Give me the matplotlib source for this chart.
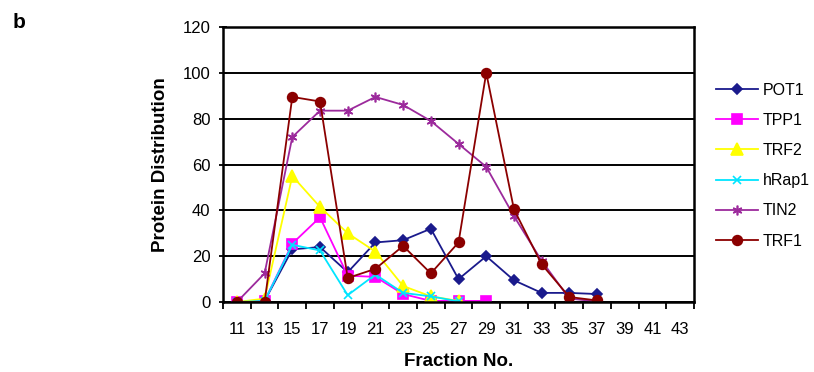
import matplotlib.pyplot as plt
import numpy as np

plt.rcParams["font.family"] = ["Liberation Sans", "DejaVu Sans"]

fractions = ["11", "13", "15", "17", "19", "21", "23", "25", "27", "29", "31",
             "33", "35", "37", "39", "41", "43"]

pot1 = [0, 0.5, 23, 24, 13, 26, 27, 32, 10, 20, 9.5, 4, 4, 3.5]
tpp1 = [0, 0.5, 25.5, 37, 11.5, 11, 3.5, 0.5, 0.5, 0.5]
trf2 = [0, 1.5, 55, 41.5, 30, 22, 7, 2.5, 0.5]
hrap1 = [0, 0.5, 25, 22.5, 3, 12, 4, 2.5, 0.3]
tin2 = [0, 12.5, 72, 83.5, 83.5, 89.5, 86, 79, 69, 59, 37.5, 18, 1.5, 0.3]
trf1 = [0, 0, 89.5, 87.5, 10.5, 14.5, 24.5, 12.5, 26, 100, 40.5, 16.5, 2.2, 0.7]

series = [
    ("POT1", pot1, "#1a1a8c", "D", 5),
    ("TPP1", tpp1, "#ff00ff", "s", 6.5),
    ("TRF2", trf2, "#ffff00", "^", 8),
    ("hRap1", hrap1, "#00e5ff", "x", 6),
    ("TIN2", tin2, "#9c2a9c", (6, 2, 0), 7),
    ("TRF1", trf1, "#8b0000", "o", 7),
]

fig = plt.figure(figsize=(8.14, 3.72), dpi=100)
ax = fig.add_axes([0.274, 0.188, 0.5786, 0.7394])

for name, vals, color, marker, ms in series:
    x = np.arange(len(vals))
    ax.plot(x, vals, color=color, lw=1.3, marker=marker, ms=ms,
            markeredgecolor=color, markerfacecolor=color, mew=1.2, label=name)

ax.set_xlim(-0.5, len(fractions) - 0.5)
ax.set_ylim(0, 120)
ax.set_yticks(np.arange(0, 121, 20))
ax.set_xticks(np.arange(len(fractions)))
ax.set_xticklabels(fractions)
ax.set_xticks(np.arange(len(fractions) + 1) - 0.5, minor=True)
ax.tick_params(axis="x", which="major", length=0, labelsize=12, pad=14)
ax.tick_params(axis="x", which="minor", length=5, width=1.3, direction="out")
ax.tick_params(axis="y", length=6, width=1.3, direction="inout", labelsize=12, pad=6)
ax.yaxis.grid(True, color="black", lw=1.4)
ax.set_axisbelow(True)
for sp in ax.spines.values():
    sp.set_linewidth(1.8)

ax.set_ylabel("Protein Distribution", fontsize=13.5, fontweight="bold", labelpad=10)
ax.set_xlabel("Fraction No.", fontsize=13.5, fontweight="bold", labelpad=12)
fig.text(0.015, 0.94, "b", fontsize=15, fontweight="bold", ha="left", va="center")

ax.legend(loc="upper left", bbox_to_anchor=(0.872, 0.795), bbox_transform=fig.transFigure,
          frameon=False, fontsize=11.5, labelspacing=0.95, handlelength=2.6,
          handletextpad=0.3, borderaxespad=0)

fig.savefig("out.png", dpi=100)
